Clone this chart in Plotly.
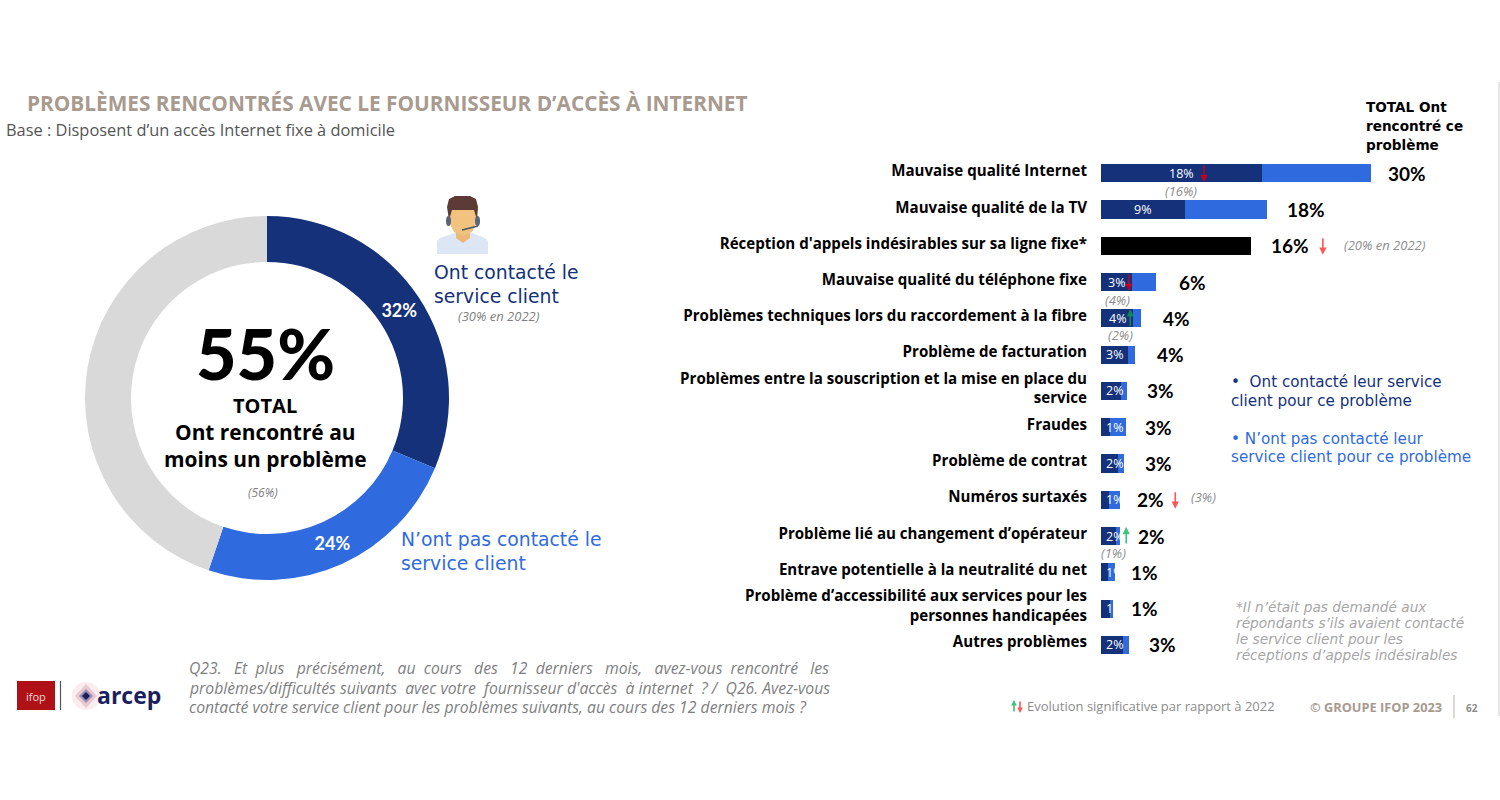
import plotly.graph_objects as go

W, H = 1500, 800
DARK = "#14317A"
BLUE = "#2F6BDE"
GREY = "#D9D9D9"
TAUPE = "#A89A8F"
SANS = "Open Sans"
WIDE = "DejaVu Sans"
NUM = "Lato"

# Donut
donut_labels = ["Ont contacté le service client", "N’ont pas contacté le service client", "Autres"]
donut_values = [31.3, 23.9, 44.8]
donut_text = ["32%", "24%", ""]

# Bars
categories = [
    "Mauvaise qualité Internet",
    "Mauvaise qualité de la TV",
    "Réception d'appels indésirables sur sa ligne fixe*",
    "Mauvaise qualité du téléphone fixe",
    "Problèmes techniques lors du raccordement à la fibre",
    "Problème de facturation",
    "Problèmes entre la souscription et la mise en place du<br>service",
    "Fraudes",
    "Problème de contrat",
    "Numéros surtaxés",
    "Problème lié au changement d’opérateur",
    "Entrave potentielle à la neutralité du net",
    "Problème d’accessibilité aux services pour les<br>personnes handicapées",
    "Autres problèmes",
]
contacted = [17.9, 9.3, 0, 3.4, 3.6, 3.0, 2.2, 1.0, 1.9, 0.9, 1.7, 0.8, 1.0, 2.4]
not_contacted = [12.1, 9.1, 0, 2.7, 0.8, 0.8, 0.7, 1.8, 0.7, 1.2, 0.4, 0.7, 0.3, 0.7]
no_question = [0, 0, 16.7, 0, 0, 0, 0, 0, 0, 0, 0, 0, 0, 0]
contacted_labels = ["18%", "9%", "", "3%", "4%", "3%", "2%", "1%", "2%", "1%", "2%", "1%", "1%", "2%"]
total_labels = ["30%", "18%", "16%", "6%", "4%", "4%", "3%", "3%", "3%", "2%", "2%", "1%", "1%", "3%"]


def px(x):
    return x / W


def py(y):
    return 1 - y / H


annotations = []


def txt(x, y, text, size, color="#000000", family=SANS, anchor="left", weight=None):
    font = dict(size=size, color=color, family=family)
    if weight:
        font["weight"] = weight
    annotations.append(dict(
        xref="paper", yref="paper", x=px(x - 1 if anchor == "left" else x), y=py(y), text=text, showarrow=False,
        xanchor=anchor, yanchor="middle", align=anchor, font=font, borderpad=0,
    ))


def justify(s, extras):
    words = s.split(" ")
    gaps = len(words) - 1
    out = words[0]
    done = 0
    for i in range(1, len(words)):
        want = round(extras * i / gaps)
        out += " " + "\u00a0" * (want - done) + words[i]
        done = want
    return out


fig = go.Figure()

fig.add_trace(go.Pie(
    labels=donut_labels, values=donut_values, text=donut_text, textinfo="text",
    textposition="inside", insidetextorientation="horizontal",
    insidetextfont=dict(color="white", size=18, family=NUM, weight="bold"),
    sort=False, direction="clockwise", rotation=0, hole=136 / 182,
    marker=dict(colors=[DARK, BLUE, GREY], line=dict(width=0)),
    domain=dict(x=[px(85), px(449)], y=[py(580), py(216)]),
    showlegend=False, hoverinfo="skip",
))

noline = dict(width=0)
fig.add_trace(go.Bar(y=categories, x=contacted, orientation="h", marker=dict(color=DARK, line=noline), showlegend=False))
fig.add_trace(go.Bar(y=categories, x=not_contacted, orientation="h", marker=dict(color=BLUE, line=noline), showlegend=False))
fig.add_trace(go.Bar(y=categories, x=no_question, orientation="h", marker=dict(color="#000000", line=noline), showlegend=False))
# Invisible trace carrying the row names on their own axis
fig.add_trace(go.Scatter(y=categories, x=[0] * len(categories), yaxis="y2", mode="markers",
                         marker=dict(opacity=0), showlegend=False, hoverinfo="skip"))

totals = [a + b + c for a, b, c in zip(contacted, not_contacted, no_question)]
gaps_px = [16, 19, 19, 22, 21, 21, 19, 18, 20, 16, 17, 15, 17, 19]
for i, (t, lab, gap) in enumerate(zip(totals, total_labels, gaps_px)):
    annotations.append(dict(xref="x", yref="y", x=t, y=i, xshift=gap, text=f"<b>{lab}</b>", showarrow=False,
                            xanchor="left", yanchor="middle", borderpad=0,
                            font=dict(color="black", size=19, family=NUM)))
for i, (c, lab) in enumerate(zip(contacted, contacted_labels)):
    if lab:
        annotations.append(dict(xref="x", yref="y", x=max(c / 2, 1.5), y=i, text=lab, showarrow=False,
                                xanchor="center", yanchor="middle", borderpad=0,
                                font=dict(color="white", size=12.5, family=SANS)))

RED_D, RED_L, GREEN_D, GREEN_L = "#C00020", "#FF5555", "#0E8A4F", "#3CC47C"
for row, xv, up, col in [(0, 11.45, False, RED_D), (2, 24.65, False, RED_L), (3, 3.1, False, RED_D),
                         (4, 3.25, True, GREEN_D), (9, 8.25, False, RED_L), (10, 2.8, True, GREEN_L)]:
    annotations.append(dict(
        xref="x", yref="y", x=xv, y=row + (-0.25 if up else 0.25), ax=0, ay=18 if up else -18,
        axref="pixel", ayref="pixel", showarrow=True, arrowhead=2, arrowsize=0.9, arrowwidth=1.6,
        arrowcolor=col, text="",
    ))

fig.update_layout(
    width=W, height=H, margin=dict(l=0, r=0, t=0, b=0), paper_bgcolor="white", plot_bgcolor="rgba(0,0,0,0)",
    barmode="stack", bargap=0.5,
    xaxis=dict(domain=[px(1101), 1], range=[0, 399 / 9], visible=False, fixedrange=True),
    yaxis=dict(domain=[py(663), py(155)], type="category", categoryorder="array", categoryarray=categories,
               range=[13.5, -0.5], anchor="x", showline=False, showgrid=False, zeroline=False, ticks="",
               showticklabels=False),
    yaxis2=dict(domain=[py(660.1), py(152.9)], type="category", categoryorder="array", categoryarray=categories,
                range=[13.5, -0.5], anchor="x", side="left", showline=False, showgrid=False, zeroline=False,
                ticks="", ticklabelstandoff=13, tickfont=dict(size=15.1, color="#000000", family=SANS, weight="bold")),
)

# Header
txt(27, 103, "<b>PROBLÈMES RENCONTRÉS AVEC LE FOURNISSEUR D’ACCÈS À INTERNET</b>", 20.8, TAUPE)
txt(6, 130, "Base : Disposent d’un accès Internet fixe à domicile", 16.4, "#555555")
txt(1366, 107, "<b>TOTAL Ont</b>", 13.6, family=WIDE)
txt(1366, 126, "<b>rencontré ce</b>", 13.6, family=WIDE)
txt(1366, 145, "<b>problème</b>", 13.6, family=WIDE)

# Donut texts
txt(265, 353, "55%", 70, family=NUM, anchor="center", weight=900)
txt(265, 406, "<b>TOTAL</b>", 20, anchor="center")
txt(265, 432, "<b>Ont rencontré au</b>", 20.9, anchor="center")
txt(265, 459, "<b>moins un problème</b>", 20.9, anchor="center")
txt(263, 492, "<i>(56%)</i>", 12, "#7F7F7F", anchor="center")
txt(434, 272, "Ont contacté le", 18.8, DARK, family=WIDE)
txt(434, 296, "service client", 18.8, DARK, family=WIDE)
txt(499, 316, "<i>(30% en 2022)</i>", 13, "#7F7F7F", anchor="center")
txt(401, 539, "N’ont pas contacté le", 18.8, BLUE, family=WIDE)
txt(401, 563, "service client", 18.8, BLUE, family=WIDE)

# Previous-wave notes
for x, y, s, a in [(1181, 191, "(16%)", "center"), (1117, 300, "(4%)", "center"), (1120, 335, "(2%)", "center"),
                   (1113, 553, "(1%)", "center"), (1344, 245, "(20% en 2022)", "left"), (1191, 497, "(3%)", "left")]:
    txt(x, y, f"<i>{s}</i>", 13, "#8C8C8C", anchor=a)

# Legend text
txt(1231, 382, "•  Ont contacté leur service", 15.2, DARK, family=WIDE)
txt(1231, 401, "client pour ce problème", 15.2, DARK, family=WIDE)
txt(1231, 439, "• N’ont pas contacté leur", 15.2, BLUE, family=WIDE)
txt(1231, 457, "service client pour ce problème", 15.2, BLUE, family=WIDE)

# Footnote
for y, s in [(607, "*Il n’était pas demandé aux"), (623, "répondants s’ils avaient contacté"),
             (639, "le service client pour les"), (655, "réceptions d’appels indésirables")]:
    txt(1236, y, f"<i>{s}</i>", 13.7, "#A6A6A6", family=WIDE)

# Question
q1 = justify("Q23. Et plus précisément, au cours des 12 derniers mois, avez-vous rencontré les", 20)
q2 = justify("problèmes/difficultés suivants avec votre fournisseur d'accès à internet ? / Q26. Avez-vous", 5)
q3 = "contacté votre service client pour les problèmes suivants, au cours des 12 derniers mois ?"
for y, s in [(668, q1), (688, q2), (707, q3)]:
    txt(189, y, f"<i>{s}</i>", 15.75, "#7F7F7F")

# Footer
txt(1027, 706, "Evolution significative par rapport à 2022", 13, "#8C8C8C")
for x, up, col in [(1014, True, GREEN_L), (1020, False, RED_L)]:
    head, tail = (700, 713) if up else (713, 700)
    annotations.append(dict(
        xref="paper", yref="paper", x=px(x), y=py(head), ax=0, ay=tail - head, axref="pixel", ayref="pixel",
        showarrow=True, arrowhead=2, arrowsize=0.7, arrowwidth=1.6, arrowcolor=col, text="",
    ))
txt(1310, 707, "<b>© GROUPE IFOP 2023</b>", 12.8, TAUPE)
txt(1472, 708, "<b>62</b>", 10, "#8C8C8C", anchor="center")

# Logos
txt(36, 696, "ifop", 11, "#F3D6D6", anchor="center")
txt(97, 695, "<b>arcep</b>", 23, "#1B1F5E")

shapes = []


def rect(x0, y0, x1, y1, fill):
    shapes.append(dict(type="rect", xref="paper", yref="paper", x0=px(x0), x1=px(x1), y0=py(y0), y1=py(y1),
                       fillcolor=fill, line=dict(width=0), layer="below"))


def seg(x0, y0, x1, y1, color, width=1):
    shapes.append(dict(type="line", xref="paper", yref="paper", x0=px(x0), x1=px(x1), y0=py(y0), y1=py(y1),
                       line=dict(color=color, width=width)))


def oval(x0, y0, x1, y1, fill):
    shapes.append(dict(type="circle", xref="paper", yref="paper", x0=px(x0), x1=px(x1), y0=py(y0), y1=py(y1),
                       fillcolor=fill, line=dict(width=0)))


def poly(points, fill):
    d = "M " + " L ".join(f"{px(x)},{py(y)}" for x, y in points) + " Z"
    shapes.append(dict(type="path", xref="paper", yref="paper", path=d, fillcolor=fill, line=dict(width=0)))


rect(17, 681, 55, 710, "#B01116")
seg(60.5, 681, 60.5, 710, "#555555", 1.2)
oval(72, 682, 100, 710, "#FBEDEF")
poly([(86, 684), (97, 696), (86, 708), (75, 696)], "#E8C9D0")
poly([(86, 689), (93, 696), (86, 703), (79, 696)], "#9A8FB5")
poly([(86, 692), (90, 696), (86, 700), (82, 696)], "#1B1F5E")
seg(1454, 695, 1454, 718, "#C9C0B8", 1.2)
seg(1499, 82, 1499, 716, "#D0D0D0", 1)

# Agent icon
poly([(437, 241), (440, 238), (454, 233), (472, 233), (485, 238), (488, 241), (488, 254), (437, 254)], "#DDE6F5")
poly([(456, 230), (470, 230), (470, 238), (463, 243), (456, 238)], "#EDB877")
poly([(449, 207), (477, 207), (477, 222), (472, 232), (463, 236), (454, 232), (449, 222)], "#F2C27F")
poly([(449, 220), (447, 207), (449, 199), (455, 196), (470, 196), (476, 199), (478, 207), (477, 220),
      (474, 210), (452, 210)], "#5C3A36")
oval(446, 216, 451, 226, "#5A6578")
oval(475, 216, 480, 226, "#5A6578")
seg(478, 226, 462, 230, "#4A5568", 1.6)

fig.update_layout(annotations=annotations, shapes=shapes)
fig.write_html("out.html", config={"displayModeBar": False},
               post_script="document.body.style.margin='0';document.body.style.overflow='hidden';")
